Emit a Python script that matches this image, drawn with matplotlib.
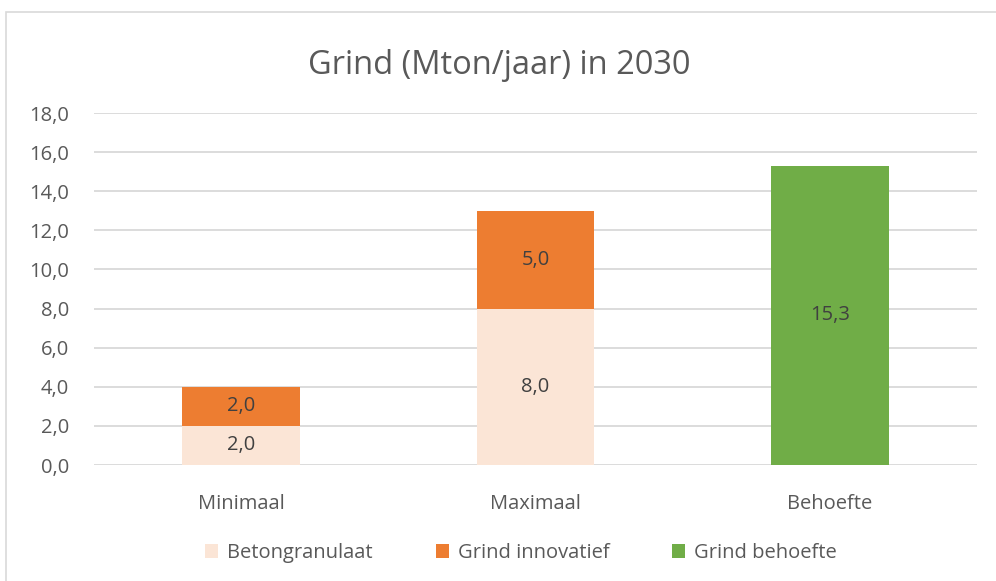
import matplotlib
matplotlib.use("Agg")
import matplotlib.pyplot as plt
from matplotlib.patches import Rectangle
import numpy as np

categories = ["Minimaal", "Maximaal", "Behoefte"]
betongranulaat = [2.0, 8.0, 0.0]
grind_innovatief = [2.0, 5.0, 0.0]
grind_behoefte = [0.0, 0.0, 15.3]
series_names = ["Betongranulaat", "Grind innovatief", "Grind behoefte"]
colors = ["#FBE5D6", "#ED7D31", "#70AD47"]
yticks = [0, 2, 4, 6, 8, 10, 12, 14, 16, 18]

plt.rcParams['font.family'] = ['Open Sans', 'DejaVu Sans']
txt = "#595959"

fig = plt.figure(figsize=(9.96, 5.81), dpi=100)
fig.patches.append(Rectangle((6/996, -0.1), 1.2, 1 - 12/581 + 0.1, transform=fig.transFigure,
                             fill=False, edgecolor="#d9d9d9", linewidth=1.2))
ax = fig.add_axes([94/996, 1 - 465/581, (977 - 94)/996, (465 - 113)/581])

x = np.arange(len(categories))
w = 0.4
b1 = np.array(betongranulaat)
b2 = np.array(grind_innovatief)
b3 = np.array(grind_behoefte)
r1 = ax.bar(x, b1, w, color=colors[0], label=series_names[0], zorder=3)
r2 = ax.bar(x, b2, w, bottom=b1, color=colors[1], label=series_names[1], zorder=3)
r3 = ax.bar(x, b3, w, bottom=b1 + b2, color=colors[2], label=series_names[2], zorder=3)

def fmt(v):
    return f"{v:.1f}".replace(".", ",")

for bars, vals, bottoms in [(r1, b1, np.zeros(3)), (r2, b2, b1), (r3, b3, b1 + b2)]:
    for rect, v, b in zip(bars, vals, bottoms):
        if v > 0:
            ax.text(rect.get_x() + rect.get_width() / 2, b + v / 2, fmt(v),
                    ha="center", va="center", fontsize=14.5, color="#404040", zorder=4)

ax.set_xlim(-0.5, 2.5)
ax.set_ylim(0, 18)
ax.set_yticks(yticks)
ax.set_yticklabels([fmt(v) for v in yticks], fontsize=14.5, color=txt)
ax.set_xticks(x)
ax.set_xticklabels(categories, fontsize=14.5, color=txt)
ax.tick_params(axis="both", length=0)
ax.tick_params(axis="y", pad=18)
ax.tick_params(axis="x", pad=21)
for s in ax.spines.values():
    s.set_visible(False)
ax.yaxis.grid(True, color="#d9d9d9", linewidth=1.3, zorder=0)
ax.set_axisbelow(True)

fig.text(499/996, 1 - 66/581, "Grind (Mton/jaar) in 2030", ha="center", va="center",
         fontsize=23.5, color=txt)

leg = fig.legend(handles=[r1, r2, r3], labels=series_names, loc="center",
                 bbox_to_anchor=(521/996, 1 - 553/581), ncol=3, frameon=False,
                 fontsize=14.5, handlelength=0.65, handleheight=0.65, handletextpad=0.45,
                 columnspacing=3.1)
for t in leg.get_texts():
    t.set_color(txt)

fig.savefig("out.png", dpi=100)
